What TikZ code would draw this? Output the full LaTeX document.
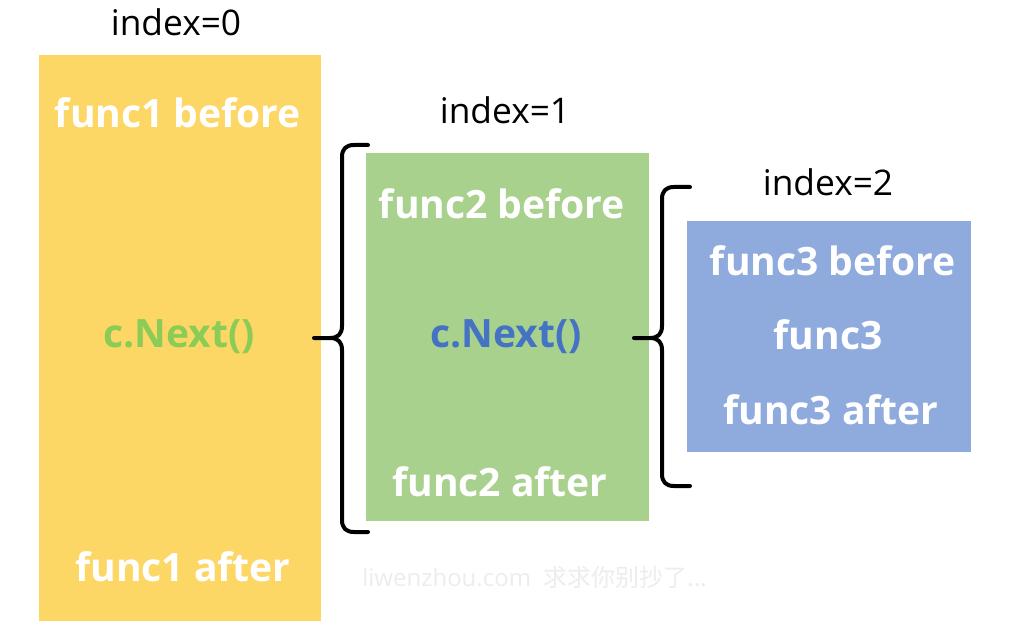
\documentclass[tikz,border=0pt]{standalone}
\usepackage{fontspec}
\setmainfont{Open Sans}
\newfontfamily\cjkfont{Noto Sans CJK SC}
\definecolor{boxyellow}{HTML}{FDD766}
\definecolor{boxgreen}{HTML}{A9D18E}
\definecolor{boxblue}{HTML}{8FAADC}
\definecolor{txtgreen}{HTML}{8ACC55}
\definecolor{txtblue}{HTML}{4472C4}
\definecolor{wmark}{HTML}{EDEDED}
\begin{document}
\begin{tikzpicture}[x=0.75pt,y=-0.75pt,
  label/.style={font=\fontsize{29.3}{32}\selectfont\bfseries,text=white,inner sep=0pt},
  idx/.style={font=\fontsize{26.5}{28}\selectfont,text=black,inner sep=0pt},
  brace/.style={line width=3pt,draw=black,line cap=round,line join=round}]
\useasboundingbox[fill=white] (0,0) rectangle (1026,635);
% panels
\fill[boxyellow] (39,55) rectangle (321,621);
\fill[boxgreen] (366,153) rectangle (649,521);
\fill[boxblue] (687,221) rectangle (971,452);
% index labels
\node[idx] (i0) at (176,22) {index=0};
\node[idx] (i1) at (505,110) {index=1};
\node[idx] (i2) at (828,182) {index=2};
% yellow panel texts
\node[label] (f1b) at (178,113) {func1 before};
\node[label,text=txtgreen] (n1) at (179,337) {c.Next()};
\node[label] (f1a) at (183,567) {func1 after};
% green panel texts
\node[label] (f2b) at (502,204) {func2 before};
\node[label,text=txtblue] (n2) at (506,337) {c.Next()};
\node[label] (f2a) at (500,482) {func2 after};
% blue panel texts
\node[label] (f3b) at (833,261) {func3 before};
\node[label] (f3) at (828,335) {func3};
\node[label] (f3a) at (831,410) {func3 after};
% braces
\draw[brace] (368,145) -- (354,145) .. controls (346,145) and (342,149) .. (342,157)
  -- (342,326) .. controls (342,334) and (338,338) .. (330,338) -- (314,338);
\draw[brace] (330,338) .. controls (338,338) and (342,342) .. (342,350)
  -- (342,520) .. controls (342,528) and (346,532) .. (354,532) -- (368,532);
\draw[brace] (690,187) -- (674,187) .. controls (666,187) and (662,191) .. (662,199)
  -- (662,326) .. controls (662,334) and (658,338) .. (650,338) -- (634,338);
\draw[brace] (650,338) .. controls (658,338) and (662,342) .. (662,350)
  -- (662,474) .. controls (662,482) and (666,486) .. (674,486) -- (690,486);
% watermark
\node[inner sep=0pt,text=wmark,font=\fontsize{18}{20}\selectfont,anchor=west] (wm) at (362,577) {liwenzhou.com\ \ {\cjkfont 求求你别抄了...}};
\end{tikzpicture}
\end{document}
